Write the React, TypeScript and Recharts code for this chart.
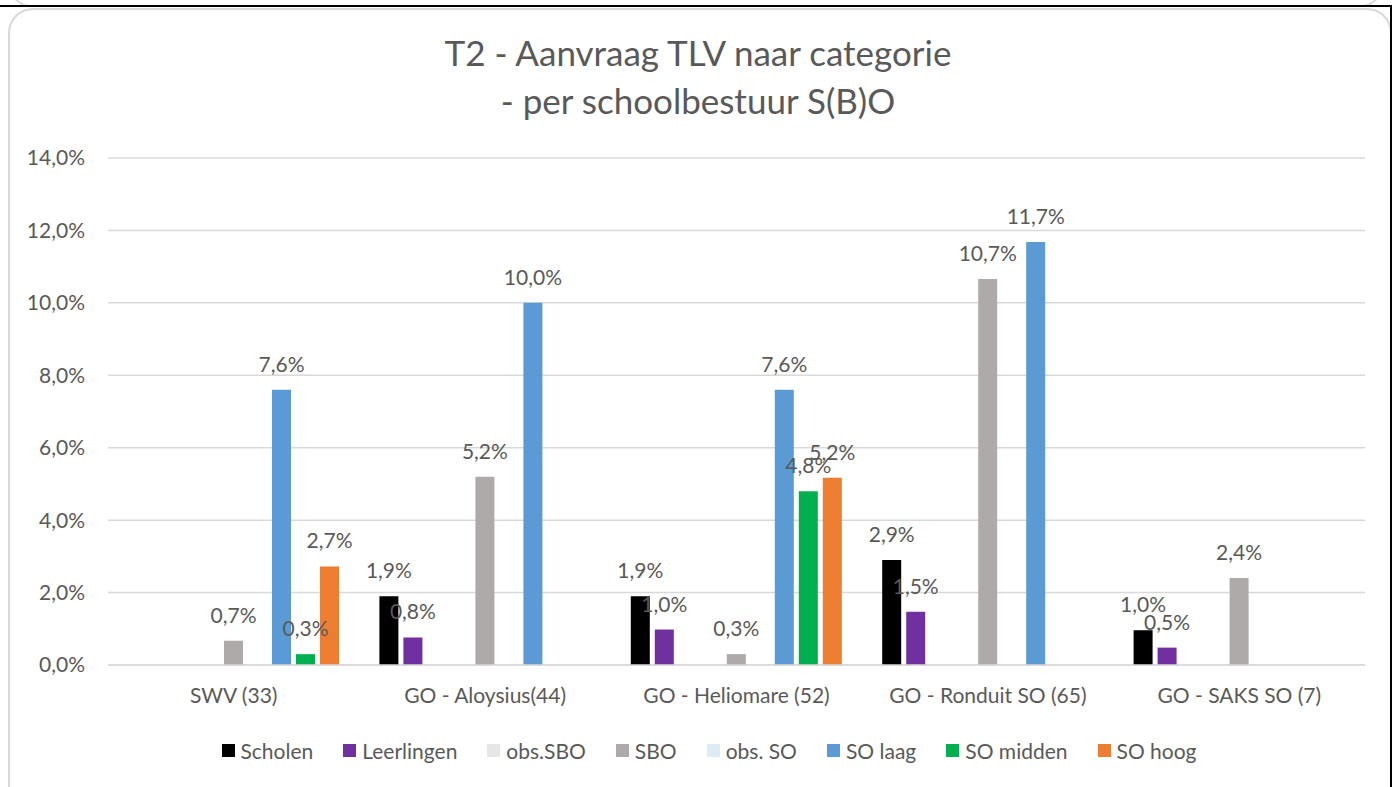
import { BarChart, Bar, XAxis, YAxis, CartesianGrid, Legend, LabelList } from "recharts";

const categories = [
  "SWV (33)",
  "GO - Aloysius(44)",
  "GO - Heliomare (52)",
  "GO - Ronduit SO (65)",
  "GO - SAKS SO (7)",
];

const scholen = [null, 1.9, 1.9, 2.9, 0.96];
const leerlingen = [null, 0.76, 0.98, 1.47, 0.48];
const obsSbo = [null, null, null, null, null];
const leeg = [null, null, null, null, null];
const sbo = [0.67, 5.2, 0.3, 10.66, 2.4];
const obsSo = [null, null, null, null, null];
const soLaag = [7.6, 10.0, 7.6, 11.68, null];
const soMidden = [0.3, null, 4.8, null, null];
const soHoog = [2.72, null, 5.17, null, null];

const yTicks = [0, 2, 4, 6, 8, 10, 12, 14];

const series = [
  { key: "scholen", name: "Scholen", color: "#000000", values: scholen },
  { key: "leerlingen", name: "Leerlingen", color: "#7030a0", values: leerlingen },
  { key: "obsSbo", name: "obs.SBO", color: "#e7e6e6", values: obsSbo },
  { key: "leeg", name: "", color: "#ffffff", values: leeg, hidden: true },
  { key: "sbo", name: "SBO", color: "#aeaaaa", values: sbo },
  { key: "obsSo", name: "obs. SO", color: "#deebf7", values: obsSo },
  { key: "soLaag", name: "SO laag", color: "#5b9bd5", values: soLaag },
  { key: "soMidden", name: "SO midden", color: "#00b050", values: soMidden },
  { key: "soHoog", name: "SO hoog", color: "#ed7d31", values: soHoog },
];

const data = categories.map((category, i) => {
  const row: any = { category };
  series.forEach((s) => {
    row[s.key] = s.values[i];
  });
  return row;
});

const TEXT = "#595959";
const FONT = "Lato, 'Open Sans', sans-serif";

const pct = (v: any) =>
  v == null || v === "" ? "" : Number(v).toFixed(1).replace(".", ",") + "%";

function LegendContent() {
  return (
    <div
      style={{
        display: "flex",
        justifyContent: "center",
        alignItems: "center",
        gap: 30,
        fontFamily: FONT,
        fontSize: 21,
        color: TEXT,
      }}
    >
      {series
        .filter((s) => !s.hidden)
        .map((s) => (
          <div key={s.key} style={{ display: "flex", alignItems: "center" }}>
            <span
              style={{
                display: "inline-block",
                width: 13,
                height: 13,
                background: s.color,
                marginRight: 6,
              }}
            />
            <span>{s.name}</span>
          </div>
        ))}
    </div>
  );
}

export default function App() {
  return (
    <div
      style={{
        position: "absolute",
        left: 0,
        top: 0,
        width: 1400,
        height: 787,
        overflow: "hidden",
        background: "#fff",
        fontFamily: FONT,
      }}
    >
      {/* rand van de vorige grafiek erboven */}
      <div
        style={{
          position: "absolute",
          left: 8,
          top: -40,
          width: 1372,
          height: 43,
          border: "2px solid #d9d9d9",
          borderRadius: 25,
        }}
      />
      <div style={{ position: "absolute", left: 0, top: 5, width: 1392, height: 2, background: "#000" }} />
      <div
        style={{
          position: "absolute",
          left: 8,
          top: 8,
          width: 1380,
          height: 820,
          border: "2px solid #d9d9d9",
          borderRadius: 25,
        }}
      />
      <div style={{ position: "absolute", left: 1390, top: 5, width: 2, height: 782, background: "#000" }} />

      <div
        style={{
          position: "absolute",
          left: 0,
          top: 31,
          width: 1396,
          textAlign: "center",
          fontSize: 35,
          lineHeight: "42px",
          color: TEXT,
        }}
      >
        <div>T2 - Aanvraag TLV naar categorie</div>
        <div style={{ marginTop: 6 }}>- per schoolbestuur S(B)O</div>
      </div>

      <div style={{ position: "absolute", left: 0, top: 0 }}>
        <BarChart
          width={1400}
          height={787}
          data={data}
          margin={{ top: 158, right: 35, bottom: 62, left: 8 }}
          barSize={19}
          barGap={5}
          style={{ fontFamily: FONT }}
        >
          <CartesianGrid vertical={false} stroke="#d9d9d9" strokeWidth={1.5} />
          <XAxis
            dataKey="category"
            height={60}
            tickLine={false}
            tickSize={0}
            tickMargin={23}
            axisLine={{ stroke: "#d9d9d9", strokeWidth: 1.5 }}
            tick={{ fill: TEXT, fontSize: 21, fontFamily: FONT }}
            interval={0}
          />
          <YAxis
            width={100}
            domain={[0, 14]}
            ticks={yTicks}
            tickFormatter={pct}
            axisLine={false}
            tickLine={false}
            tickSize={0}
            tickMargin={23}
            tick={{ fill: TEXT, fontSize: 21, fontFamily: FONT }}
          />
          <Legend
            layout="horizontal"
            verticalAlign="middle"
            align="center"
            content={() => <LegendContent />}
            wrapperStyle={{ position: "absolute", left: 12, top: 738, width: 1394 }}
          />
          {series.map((s) => (
            <Bar
              key={s.key}
              dataKey={s.key}
              name={s.name}
              fill={s.color}
              isAnimationActive={false}
              legendType={s.hidden ? "none" : "square"}
            >
              <LabelList
                dataKey={s.key}
                position="top"
                offset={18}
                formatter={pct}
                fill={TEXT}
                fontSize={21}
                fontFamily={FONT}
              />
            </Bar>
          ))}
        </BarChart>
      </div>
    </div>
  );
}
